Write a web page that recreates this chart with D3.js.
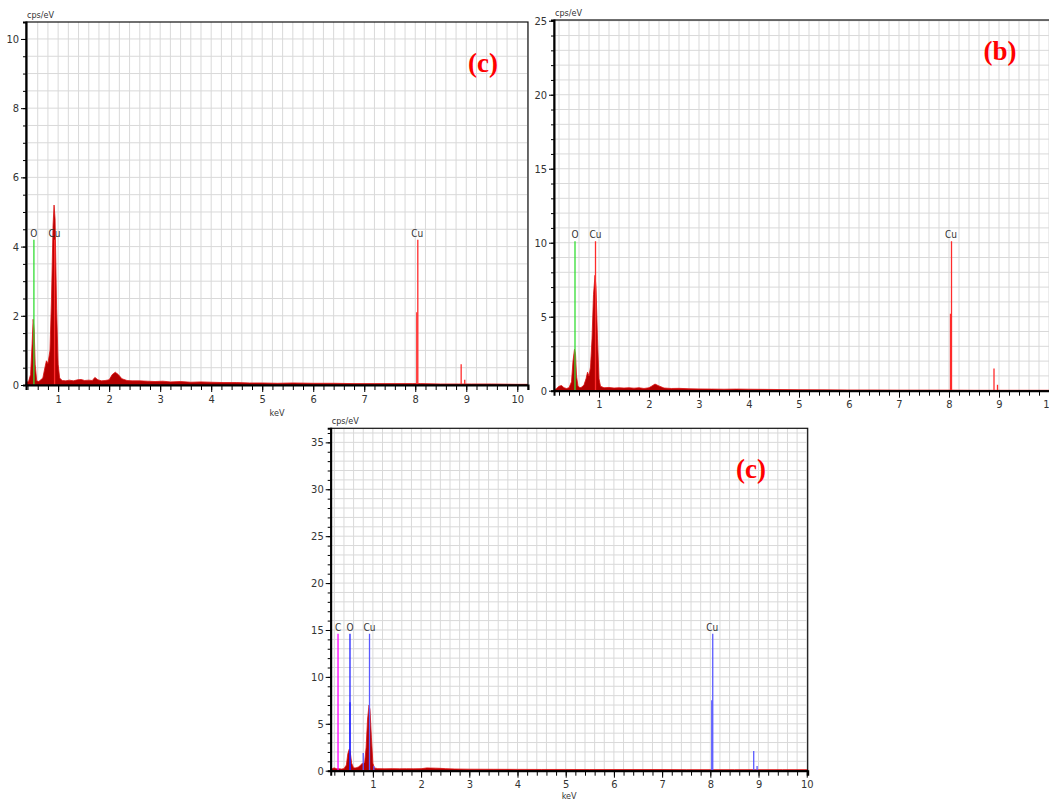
<!DOCTYPE html>
<html>
<head>
<meta charset="utf-8">
<script src="https://cdn.jsdelivr.net/npm/d3@7"></script>
<style>
  body { margin: 0; background: #fff; }
  svg { display: block; }
  .tick text { font-family: "DejaVu Sans Condensed", "Liberation Sans Narrow", sans-serif; }
</style>
</head>
<body>
<script>
// ---- panel (c) top left : spectrum (keV, cps/eV)
var specA_kev = [0.37,0.42,0.46,0.49,0.51,0.53,0.55,0.58,0.62,0.66,0.70,0.74,0.77,0.80,0.84,0.87,0.90,0.92,0.94,0.97,1.00,1.03,1.08,1.15,1.22,1.30,1.38,1.45,1.52,1.60,1.67,1.72,1.78,1.85,1.92,2.00,2.06,2.12,2.18,2.25,2.35,2.45,2.60,2.75,2.90,3.05,3.20,3.40,3.60,3.80,4.00,4.25,4.50,4.75,5.00,5.30,5.60,6.00,6.40,6.80,7.20,7.60,7.95,8.10,8.50,8.85,9.10,9.50,10.00,10.20];
var specA_cps = [0.08,0.10,0.30,1.20,1.90,1.60,0.60,0.12,0.10,0.15,0.20,0.50,0.70,0.62,1.00,2.50,4.60,5.20,4.80,2.20,0.60,0.20,0.13,0.12,0.14,0.12,0.15,0.16,0.13,0.14,0.13,0.22,0.15,0.12,0.13,0.15,0.30,0.37,0.30,0.18,0.13,0.12,0.12,0.11,0.10,0.11,0.09,0.10,0.08,0.09,0.08,0.07,0.07,0.06,0.06,0.05,0.06,0.05,0.05,0.04,0.04,0.04,0.04,0.04,0.03,0.03,0.03,0.03,0.02,0.02];
var linesA_kev = [0.525,0.93,8.03,8.05,8.90,8.97];
var linesA_cps = [4.2,4.2,2.1,4.2,0.6,0.15];
var linesA_el  = ["O","Cu","Cu","Cu","Cu","Cu"];
var labelsA_kev = [0.525,0.93,8.04];
var labelsA_cps = [4.2,4.2,4.2];
var labelsA_txt = ["O","Cu","Cu"];
var ticksA_y = [0,2,4,6,8,10];

// ---- panel (b) top right
var specB_kev = [0.10,0.15,0.20,0.25,0.30,0.35,0.40,0.45,0.48,0.51,0.53,0.55,0.58,0.62,0.66,0.70,0.74,0.77,0.80,0.83,0.86,0.89,0.92,0.94,0.97,1.00,1.03,1.10,1.20,1.30,1.40,1.50,1.60,1.70,1.80,1.90,2.00,2.06,2.12,2.20,2.30,2.45,2.60,2.80,3.00,3.25,3.50,3.75,4.00,4.30,4.60,5.00,5.50,6.00,6.50,7.00,7.50,8.00,8.50,9.00,9.50,10.00,10.30];
var specB_cps = [0.05,0.15,0.30,0.35,0.20,0.15,0.20,0.60,2.00,2.80,2.50,1.00,0.30,0.20,0.25,0.40,0.80,1.25,1.00,1.60,3.50,6.50,7.80,7.00,3.50,0.80,0.30,0.20,0.22,0.18,0.20,0.18,0.20,0.17,0.20,0.15,0.20,0.32,0.45,0.32,0.18,0.15,0.16,0.13,0.12,0.11,0.10,0.11,0.10,0.09,0.08,0.07,0.06,0.05,0.05,0.04,0.04,0.04,0.03,0.03,0.03,0.03,0.03];
var linesB_kev = [0.52,0.93,8.03,8.05,8.90,8.97];
var linesB_cps = [10.1,10.1,5.2,10.1,1.5,0.4];
var linesB_el  = ["O","Cu","Cu","Cu","Cu","Cu"];
var labelsB_kev = [0.52,0.93,8.04];
var labelsB_cps = [10.1,10.1,10.1];
var labelsB_txt = ["O","Cu","Cu"];
var ticksB_y = [0,5,10,15,20,25];

// ---- panel (c) bottom
var specC_kev = [0.13,0.17,0.20,0.25,0.30,0.35,0.40,0.45,0.48,0.51,0.53,0.56,0.60,0.65,0.70,0.75,0.78,0.80,0.83,0.86,0.89,0.92,0.94,0.97,1.00,1.03,1.10,1.25,1.40,1.55,1.70,1.85,2.00,2.06,2.12,2.20,2.30,2.40,2.50,2.70,3.00,3.50,4.00,4.50,5.00,5.50,6.00,6.50,7.00,7.50,8.00,8.50,9.00,9.50,10.02];
var specC_cps = [0.10,0.25,0.30,0.20,0.20,0.18,0.22,0.60,1.80,2.30,2.00,0.80,0.30,0.30,0.40,0.60,0.80,0.70,0.90,2.50,5.50,7.00,6.50,3.50,0.80,0.30,0.22,0.20,0.22,0.20,0.21,0.20,0.22,0.25,0.30,0.28,0.27,0.25,0.22,0.18,0.16,0.15,0.14,0.13,0.13,0.12,0.12,0.12,0.12,0.11,0.11,0.11,0.11,0.11,0.11];
var linesC_kev = [0.277,0.525,0.525,0.80,0.93,1.02,8.03,8.05,8.90,8.97];
var linesC_cps = [14.6,14.6,7.3,1.9,14.6,0.5,7.5,14.6,2.1,0.5];
var linesC_el  = ["C","O","O","Cu","Cu","Cu","Cu","Cu","Cu","Cu"];
var labelsC_kev = [0.277,0.525,0.93,8.04];
var labelsC_cps = [14.6,14.6,14.6,14.6];
var labelsC_txt = ["C","O","Cu","Cu"];
var ticksC_y = [0,5,10,15,20,25,30,35];

var svg = d3.select("body")
  .append("svg")
  .attr("width", 1049)
  .attr("height", 802);

svg.append("rect")
  .attr("width", 1049)
  .attr("height", 802)
  .attr("fill", "#fff");

var labelFont = '"DejaVu Sans Condensed", "Liberation Sans Narrow", sans-serif';

function drawPanel(p) {
  var x = d3.scaleLinear().domain(p.xdom).range([p.left, p.right]);
  var y = d3.scaleLinear().domain(p.ydom).range([p.bottom, p.top]);
  var g = svg.append("g");

  // grid
  g.selectAll(".vg")
    .data(d3.range(Math.ceil(p.xdom[0] * 5), Math.floor(p.xdom[1] * 5) + 1))
    .enter()
    .append("line")
    .attr("x1", function(d){ return x(d / 5); })
    .attr("x2", function(d){ return x(d / 5); })
    .attr("y1", p.top)
    .attr("y2", p.bottom)
    .attr("stroke", "#d9d9d9")
    .attr("stroke-width", 1);

  g.selectAll(".hg")
    .data(d3.range(1, Math.floor(p.ydom[1] / p.ystep) + 1))
    .enter()
    .append("line")
    .attr("x1", p.left)
    .attr("x2", p.right)
    .attr("y1", function(d){ return y(d * p.ystep); })
    .attr("y2", function(d){ return y(d * p.ystep); })
    .attr("stroke", "#d9d9d9")
    .attr("stroke-width", 1);

  // spectrum
  var kev = p.kev, cps = p.cps;
  var area = d3.area()
    .x(function(d, i){ return x(kev[i]); })
    .y0(y(0))
    .y1(function(d, i){ return y(cps[i]); });
  g.append("path")
    .datum(kev)
    .attr("d", area)
    .attr("fill", "#b40000")
    .attr("stroke", "#dc1010")
    .attr("stroke-width", 0.8);

  // element lines
  g.selectAll(".el")
    .data(p.lkev)
    .enter()
    .append("line")
    .attr("x1", function(d){ return x(d); })
    .attr("x2", function(d){ return x(d); })
    .attr("y1", y(0))
    .attr("y2", function(d, i){ return y(p.lcps[i]); })
    .attr("stroke", function(d, i){ return p.colors[p.lel[i]]; })
    .attr("stroke-width", 1.3);

  g.selectAll(".lab")
    .data(p.tkev)
    .enter()
    .append("text")
    .attr("x", function(d){ return x(d); })
    .attr("y", function(d, i){ return y(p.tcps[i]) - 3; })
    .attr("text-anchor", "middle")
    .attr("font-family", labelFont)
    .attr("font-size", 10)
    .attr("fill", "#333")
    .text(function(d, i){ return p.ttxt[i]; });

  // frame
  g.append("rect")
    .attr("x", p.left)
    .attr("y", p.top)
    .attr("width", p.right - p.left)
    .attr("height", p.bottom - p.top)
    .attr("fill", "none")
    .attr("stroke", "#111")
    .attr("stroke-width", 1.2);

  // x axis with minor ticks
  var xMinor = d3.range(Math.ceil(p.xdom[0] * 5), Math.floor(p.xdom[1] * 5) + 1).map(function(d){ return d / 5; });
  g.append("g")
    .attr("transform", "translate(0," + p.bottom + ")")
    .call(d3.axisBottom(x).tickValues(xMinor).tickSize(5).tickFormat(""))
    .call(function(s){ s.select(".domain").attr("stroke-width", 2); });
  g.append("g")
    .attr("transform", "translate(0," + p.bottom + ")")
    .call(d3.axisBottom(x).tickValues(d3.range(1, 11)).tickSize(7).tickPadding(3).tickFormat(d3.format("d")))
    .call(function(s){
      s.select(".domain").remove();
      s.selectAll("text").attr("font-size", 11).attr("fill", "#333");
    });

  // y axis with minor ticks
  var yMinor = d3.range(0, Math.floor(p.ydom[1] / p.ystep) + 1).map(function(d){ return d * p.ystep; });
  g.append("g")
    .attr("transform", "translate(" + p.left + ",0)")
    .call(d3.axisLeft(y).tickValues(yMinor).tickSize(3).tickFormat(""))
    .call(function(s){ s.select(".domain").attr("stroke-width", 2); });
  g.append("g")
    .attr("transform", "translate(" + p.left + ",0)")
    .call(d3.axisLeft(y).tickValues(p.yticks).tickSize(5).tickPadding(2).tickFormat(d3.format("d")))
    .call(function(s){
      s.select(".domain").remove();
      s.selectAll("text").attr("font-size", 11).attr("fill", "#333");
    });

  g.append("text")
    .attr("x", p.left + 1)
    .attr("y", p.top - 4)
    .attr("font-family", labelFont)
    .attr("font-size", 9)
    .attr("fill", "#333")
    .text("cps/eV");

  if (p.showKev) {
    g.append("text")
      .attr("x", (p.left + p.right) / 2)
      .attr("y", Math.min(p.bottom + 31, 799))
      .attr("text-anchor", "middle")
      .attr("font-family", labelFont)
      .attr("font-size", 9)
      .attr("fill", "#333")
      .text("keV");
  }

  g.append("text")
    .attr("x", p.tagX)
    .attr("y", p.tagY)
    .attr("text-anchor", "middle")
    .attr("font-family", '"Liberation Serif", "Times New Roman", serif')
    .attr("font-weight", "bold")
    .attr("font-size", 27)
    .attr("fill", "#ff0000")
    .text(p.tag);
}

var colorsAB = { O: "#33dd33", Cu: "#ff2b2b", C: "#ff00ff" };
var colorsC = { O: "#2222ff", Cu: "#5a5aff", C: "#ff00ff" };

drawPanel({
  left: 26, right: 528, top: 22, bottom: 385,
  xdom: [0.37, 10.21], ydom: [0, 10.49], ystep: 0.5, yticks: ticksA_y,
  kev: specA_kev, cps: specA_cps,
  lkev: linesA_kev, lcps: linesA_cps, lel: linesA_el,
  tkev: labelsA_kev, tcps: labelsA_cps, ttxt: labelsA_txt,
  colors: colorsAB, tag: "(c)", tagX: 483, tagY: 72, showKev: true
});

drawPanel({
  left: 554, right: 1060, top: 20, bottom: 390.7,
  xdom: [0.1, 10.22], ydom: [0, 25.05], ystep: 1, yticks: ticksB_y,
  kev: specB_kev, cps: specB_cps,
  lkev: linesB_kev, lcps: linesB_cps, lel: linesB_el,
  tkev: labelsB_kev, tcps: labelsB_cps, ttxt: labelsB_txt,
  colors: colorsAB, tag: "(b)", tagX: 1000, tagY: 60, showKev: false
});

drawPanel({
  left: 330.7, right: 807.7, top: 428.3, bottom: 770.7,
  xdom: [0.125, 10.02], ydom: [0, 36.5], ystep: 1, yticks: ticksC_y,
  kev: specC_kev, cps: specC_cps,
  lkev: linesC_kev, lcps: linesC_cps, lel: linesC_el,
  tkev: labelsC_kev, tcps: labelsC_cps, ttxt: labelsC_txt,
  colors: colorsC, tag: "(c)", tagX: 751, tagY: 478, showKev: true
});
</script>
</body>
</html>
